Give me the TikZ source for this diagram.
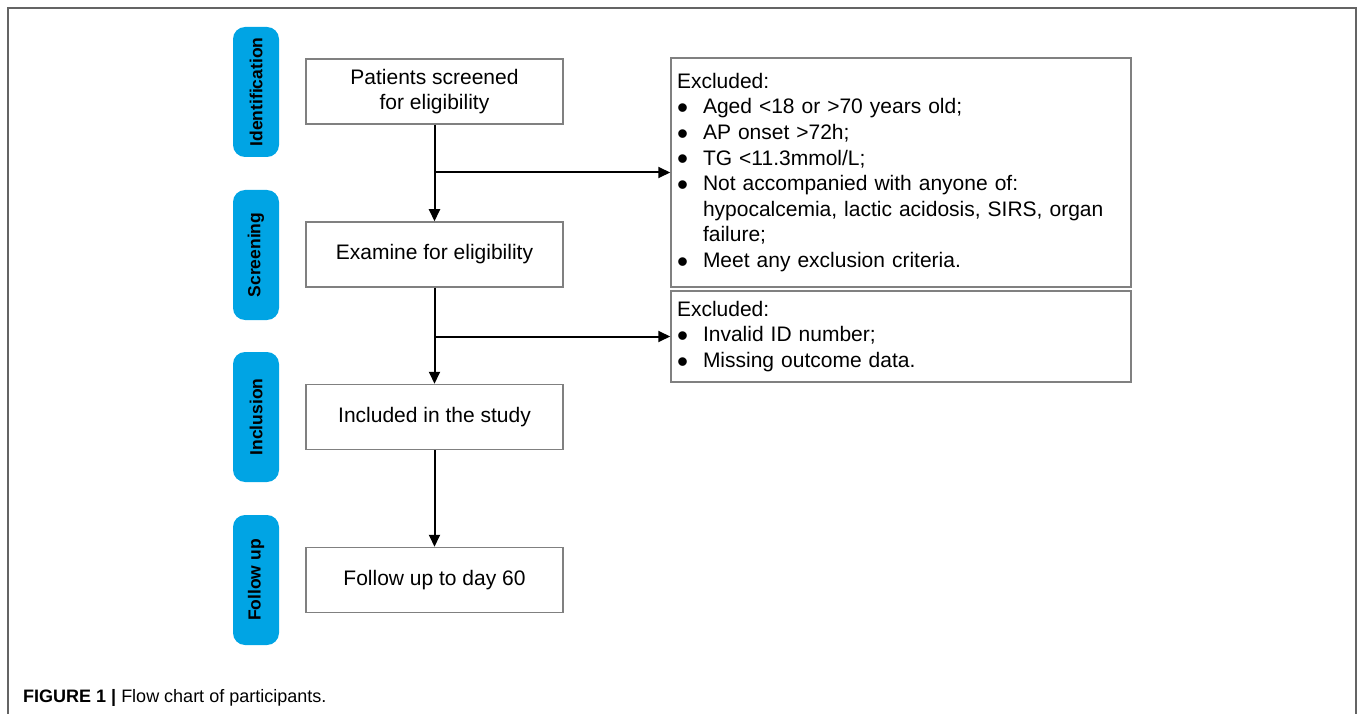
\documentclass[tikz,border=0pt]{standalone}
\usepackage{fontspec}
\setmainfont{Liberation Sans}
\usepackage{xcolor}
\usepackage{tikz}
\usetikzlibrary{shapes,arrows}
\usetikzlibrary{arrows.meta}
\definecolor{stageblue}{RGB}{0,164,228}
\definecolor{framegray}{RGB}{100,100,100}
\newcommand{\itembul}{\makebox[26pt][l]{\raisebox{-4.5pt}[0pt][0pt]{\scalebox{1.5}{\textbullet}}}}
\newcommand{\itemcont}{\hspace*{26pt}}

\begin{document}
\begin{tikzpicture}[x=1pt,y=-1pt,
    stagebox/.style={rectangle, rounded corners=12pt, fill=stageblue, rotate=90,
      minimum width=130pt, minimum height=46pt, inner sep=0pt,
      font=\fontsize{17.5}{20}\selectfont\bfseries},
    flowbox/.style={rectangle, draw=black!50, line width=1.5pt, minimum width=257pt,
      minimum height=65pt, align=center, inner sep=0pt,
      font=\fontsize{21}{25.6}\selectfont},
    exclbox/.style={rectangle, draw=black!50, line width=1.5pt, text width=448pt,
      inner xsep=6pt, inner ysep=0pt, align=left,
      font=\fontsize{21}{25.6}\selectfont},
    flowarrow/.style={line width=2pt, -{Triangle[length=12pt,width=11pt]}}]
     \useasboundingbox (0,0) rectangle (1358,714);
     % Frame
     \draw[framegray, line width=2pt] (7.5,714) -- (7.5,8) -- (1356,8) -- (1356,714);
     % Stage Labels
     \node[stagebox] (ident)  at (256, 92)  {Identification};
     \node[stagebox] (screen) at (256, 255) {Screening};
     \node[stagebox] (incl)   at (256, 417) {Inclusion};
     \node[stagebox] (follow) at (256, 580) {Follow up};
     % Main Flow Boxes
     \node[flowbox] (patients) at (434.5, 91.5) {Patients screened\\for eligibility};
     \node[flowbox] (examine)  at (434.5, 254.5) {Examine for eligibility};
     \node[flowbox] (included) at (434.5, 417) {Included in the study};
     \node[flowbox] (followup) at (434.5, 580) {Follow up to day 60};
     % Exclusion Boxes
     \node[exclbox, minimum height=229pt] (excl1) at (901, 172.5) {Excluded:\\
       \itembul Aged <18 or >70 years old;\\
       \itembul AP onset >72h;\\
       \itembul TG <11.3mmol/L;\\
       \itembul Not accompanied with anyone of:\\
       \itemcont hypocalcemia, lactic acidosis, SIRS, organ\\
       \itemcont failure;\\
       \itembul Meet any exclusion criteria.};
     \node[exclbox, minimum height=91pt] (excl2) at (901, 336.5) {Excluded:\\
       \itembul Invalid ID number;\\
       \itembul Missing outcome data.};
     %
     % Flow Edges:
     \draw[flowarrow] (patients) -- (examine);
     \draw[flowarrow] (examine) -- (included);
     \draw[flowarrow] (included) -- (followup);
     % Edges to Exclusion Boxes
     \draw[flowarrow] (patients.south |- excl1.west) -- (excl1.west);
     \draw[flowarrow] (examine.south |- excl2.west) -- (excl2.west);
     % Caption
     \node[anchor=base west, inner sep=0pt, font=\fontsize{18}{22}\selectfont] (caption)
       at (23, 702) {\textbf{FIGURE 1 |} Flow chart of participants.};
\end{tikzpicture}
\end{document}
